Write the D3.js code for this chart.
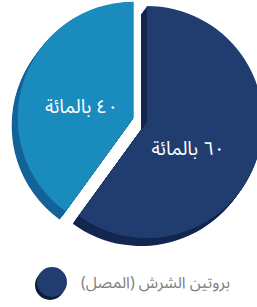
<!DOCTYPE html>
<html>
<head>
<meta charset="utf-8">
<script src="https://cdn.jsdelivr.net/npm/d3@7"></script>
<style>
  body { margin: 0; background: #fff; }
  svg { display: block; }
  text { font-family: "Noto Sans Arabic", "DejaVu Sans", sans-serif; }
</style>
</head>
<body>
<div id="chart"></div>
<script>
const width = 257;
const height = 307;

// data
const labels = ["٦٠ بالمائة", "٤٠ بالمائة"];
const values = [60, 40];
const exploded = [false, true];
const topColors = ["#213d70", "#1a8bbd"];
const sideColors = ["#132750", "#14639a"];
const legendLabel = "بروتين الشرش (المصل)";

const radius = 116;
const center = { x: 147, y: 122 };
const explode = 14;
const depth = { x: -6, y: 8 };

const svg = d3.select("#chart").append("svg")
  .attr("width", width)
  .attr("height", height);

const pie = d3.pie().sort(null).value(d => d);
const arcs = pie(values);

const arc = d3.arc().innerRadius(0).outerRadius(radius);
const labelArc = d3.arc().innerRadius(radius * 0.5).outerRadius(radius * 0.5);

// offset of each slice centre
function sliceShift(d, i) {
  if (!exploded[i]) return [0, 0];
  const a = (d.startAngle + d.endAngle) / 2;
  return [Math.sin(a) * explode, -Math.cos(a) * explode];
}

const g = svg.append("g")
  .attr("transform", `translate(${center.x}, ${center.y})`);

// extruded sides first
arcs.forEach((d, i) => {
  const [sx, sy] = sliceShift(d, i);
  const steps = 10;
  for (let k = steps; k >= 1; k--) {
    g.append("path")
      .attr("d", arc(d))
      .attr("fill", sideColors[i])
      .attr("transform", `translate(${sx + depth.x * k / steps}, ${sy + depth.y * k / steps})`);
  }
});

// top faces
arcs.forEach((d, i) => {
  const [sx, sy] = sliceShift(d, i);
  g.append("path")
    .attr("d", arc(d))
    .attr("fill", topColors[i])
    .attr("transform", `translate(${sx}, ${sy})`);
});

// labels
const labelNudge = [[-14, 9], [3, 7]];
arcs.forEach((d, i) => {
  const [sx, sy] = sliceShift(d, i);
  const c = labelArc.centroid(d);
  g.append("text")
    .attr("x", c[0] + sx + labelNudge[i][0])
    .attr("y", c[1] + sy + labelNudge[i][1])
    .attr("text-anchor", "middle")
    .attr("dominant-baseline", "central")
    .attr("direction", "rtl")
    .attr("fill", "#fff")
    .attr("font-size", "19px")
    .text(labels[i]);
});

// legend
const legend = svg.append("g")
  .attr("transform", "translate(52, 282)");

legend.append("circle")
  .attr("cx", -2)
  .attr("cy", 3)
  .attr("r", 15)
  .attr("fill", "#0f1c38");

legend.append("circle")
  .attr("r", 15)
  .attr("fill", topColors[0]);

// rtl: "start" puts the right edge at x
legend.append("text")
  .attr("x", 178)
  .attr("y", 1)
  .attr("text-anchor", "start")
  .attr("dominant-baseline", "central")
  .attr("direction", "rtl")
  .attr("fill", "#808080")
  .attr("font-size", "16px")
  .text(legendLabel);
</script>
</body>
</html>
